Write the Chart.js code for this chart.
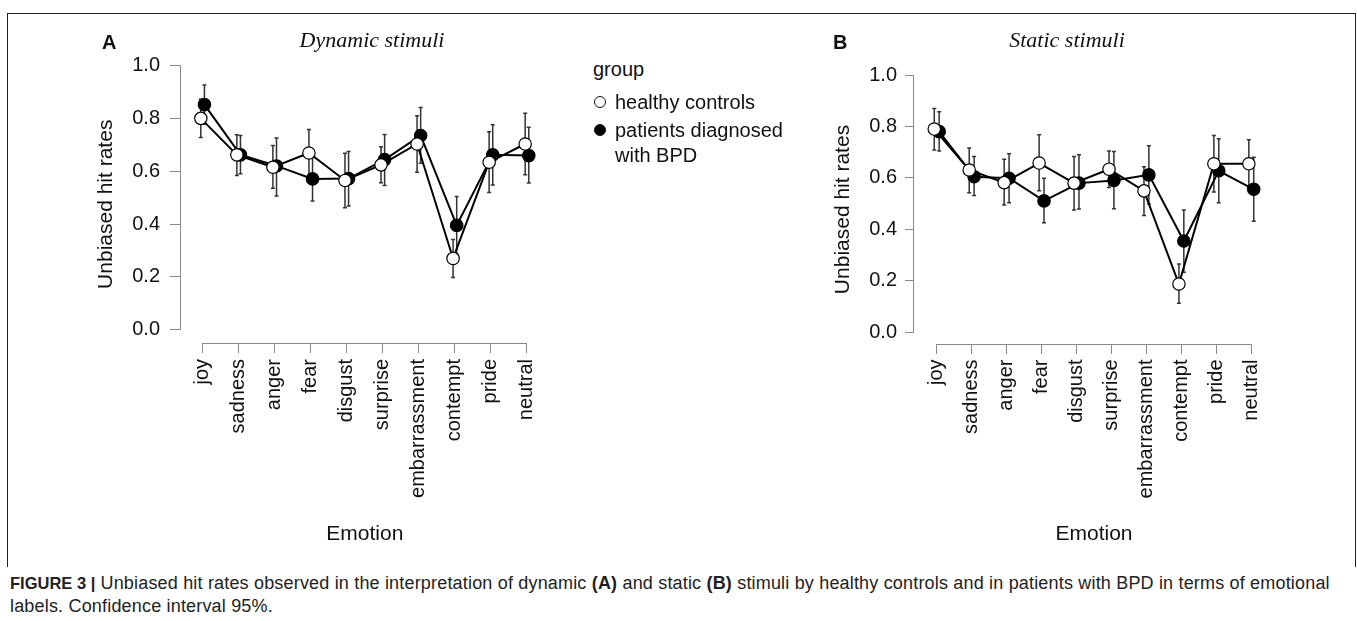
<!DOCTYPE html>
<html><head><meta charset="utf-8">
<script src="https://cdn.jsdelivr.net/npm/chart.js@4.4.1/dist/chart.umd.min.js"></script>
<style>
html,body{margin:0;padding:0;background:#fff;}
body{width:1357px;height:621px;position:relative;overflow:hidden;font-family:"Liberation Sans",Arial,sans-serif;color:#111;}
.abs{position:absolute;white-space:nowrap;}
#frame{position:absolute;left:7px;top:13px;width:1347px;height:553px;border:1px solid #222;border-bottom:none;}
canvas{position:absolute;top:0;}
.panel{font-weight:bold;font-size:20px;line-height:24px;}
.title{font-family:"Liberation Serif","Times New Roman",serif;font-style:italic;font-size:22px;line-height:26px;transform:translateX(-50%);}
.leg{font-size:20px;line-height:24px;}
.dot{position:absolute;width:10px;height:10px;border-radius:50%;border:1px solid #111;}
#cap{position:absolute;left:10px;top:572px;font-size:18px;line-height:23px;color:#222;white-space:nowrap;letter-spacing:0.18px;}
#cap .fig{letter-spacing:0;font-size:16.5px;}
</style></head><body>
<div id="frame"></div>
<canvas id="chartA" width="560" height="556" style="left:0px"></canvas>
<canvas id="chartB" width="560" height="556" style="left:740px"></canvas>
<div class="abs panel" style="left:102px;top:30px">A</div>
<div class="abs panel" style="left:833px;top:30px">B</div>
<div class="abs title" style="left:372px;top:27px">Dynamic stimuli</div>
<div class="abs title" style="left:1067px;top:27px">Static stimuli</div>
<div id="legend"></div>
<div id="cap"><b class="fig">FIGURE 3 |</b> Unbiased hit rates observed in the interpretation of dynamic <b>(A)</b> and static <b>(B)</b> stimuli by healthy controls and in patients with BPD in terms of emotional<br>labels. Confidence interval 95%.</div>
<script>
// ---- data ----
const categories = ['joy','sadness','anger','fear','disgust','surprise','embarrassment','contempt','pride','neutral'];
const yTickValues = [0, 0.2, 0.4, 0.6, 0.8, 1.0];
const seriesNames = ['healthy controls', 'patients diagnosed with BPD'];

// Dynamic stimuli (A)
const dynHealthy     = [0.800, 0.662, 0.615, 0.669, 0.565, 0.624, 0.703, 0.270, 0.634, 0.703];
const dynHealthyLow  = [0.728, 0.584, 0.536, 0.580, 0.462, 0.556, 0.596, 0.198, 0.519, 0.587];
const dynHealthyHigh = [0.872, 0.738, 0.697, 0.758, 0.668, 0.693, 0.810, 0.342, 0.749, 0.819];
const dynBPD         = [0.852, 0.662, 0.620, 0.571, 0.572, 0.644, 0.735, 0.395, 0.662, 0.659];
const dynBPDLow      = [0.778, 0.590, 0.506, 0.487, 0.468, 0.546, 0.630, 0.286, 0.548, 0.555];
const dynBPDHigh     = [0.926, 0.735, 0.726, 0.655, 0.675, 0.739, 0.841, 0.504, 0.776, 0.766];

// Static stimuli (B)
const staHealthy     = [0.790, 0.631, 0.582, 0.658, 0.580, 0.634, 0.550, 0.188, 0.655, 0.655];
const staHealthyLow  = [0.709, 0.543, 0.495, 0.550, 0.476, 0.563, 0.454, 0.113, 0.545, 0.562];
const staHealthyHigh = [0.870, 0.716, 0.673, 0.768, 0.683, 0.705, 0.644, 0.266, 0.765, 0.748];
const staBPD         = [0.780, 0.605, 0.599, 0.511, 0.580, 0.590, 0.612, 0.355, 0.628, 0.556];
const staBPDLow      = [0.705, 0.532, 0.504, 0.426, 0.479, 0.480, 0.499, 0.234, 0.504, 0.432];
const staBPDHigh     = [0.857, 0.683, 0.694, 0.599, 0.690, 0.703, 0.725, 0.476, 0.752, 0.680];

// ---- legend (HTML) ----
(function(){
  const lg = document.getElementById('legend');
  lg.innerHTML =
    '<div class="abs leg" style="left:593px;top:57px">group</div>' +
    '<div class="dot" style="left:594px;top:96px;background:#fff"></div>' +
    '<div class="abs leg" style="left:615px;top:90px">' + seriesNames[0] + '</div>' +
    '<div class="dot" style="left:594px;top:124px;background:#000"></div>' +
    '<div class="abs leg" style="left:615px;top:118px;white-space:normal;width:190px;line-height:25px">' + seriesNames[1] + '</div>';
})();

Chart.defaults.font.family = '"Liberation Sans", Arial, sans-serif';
Chart.defaults.color = '#111';

const errorBarPlugin = {
  id: 'errbars',
  beforeDatasetsDraw(chart) {
    const ctx = chart.ctx, xs = chart.scales.x, ys = chart.scales.y;
    ctx.save();
    ctx.strokeStyle = '#333';
    ctx.lineWidth = 1.5;
    chart.data.datasets.forEach(ds => {
      ds.data.forEach((p, i) => {
        const x = xs.getPixelForValue(p.x);
        const y1 = ys.getPixelForValue(ds.errLow[i]);
        const y2 = ys.getPixelForValue(ds.errHigh[i]);
        ctx.beginPath();
        ctx.moveTo(x, y1); ctx.lineTo(x, y2);
        ctx.moveTo(x - 2, y1); ctx.lineTo(x + 2, y1);
        ctx.moveTo(x - 2, y2); ctx.lineTo(x + 2, y2);
        ctx.stroke();
      });
    });
    ctx.restore();
  }
};

const axisLinePlugin = {
  id: 'axislines',
  beforeDatasetsDraw(chart) {
    const ctx = chart.ctx, xs = chart.scales.x, ys = chart.scales.y, a = chart.chartArea;
    ctx.save();
    ctx.strokeStyle = '#8a8a8a';
    ctx.lineWidth = 1;
    const lx = Math.round(a.left) - 0.5;
    ctx.beginPath();
    ctx.moveTo(lx, ys.getPixelForValue(yTickValues[0]));
    ctx.lineTo(lx, ys.getPixelForValue(yTickValues[yTickValues.length - 1]));
    const by = Math.round(a.bottom) + 0.5;
    ctx.moveTo(xs.getPixelForValue(0), by);
    ctx.lineTo(xs.getPixelForValue(categories.length - 1), by);
    ctx.stroke();
    ctx.restore();
  }
};

function makeChart(id, healthy, hLo, hHi, bpd, bLo, bHi, cfg) {
  const mk = (vals, off) => vals.map((v, i) => ({x: i + off, y: v}));
  return new Chart(document.getElementById(id), {
    type: 'line',
    data: {
      datasets: [
        {label: seriesNames[0], data: mk(healthy, -cfg.dodge), errLow: hLo, errHigh: hHi,
         borderColor: '#000', borderWidth: 2, pointRadius: 6.2, pointBorderWidth: 1.2,
         pointBackgroundColor: '#fff', pointBorderColor: '#000', tension: 0},
        {label: seriesNames[1], data: mk(bpd, cfg.dodge), errLow: bLo, errHigh: bHi,
         borderColor: '#000', borderWidth: 2, pointRadius: 6.2, pointBorderWidth: 1.2,
         pointBackgroundColor: '#000', pointBorderColor: '#000', tension: 0}
      ]
    },
    options: {
      responsive: false, animation: false, devicePixelRatio: 1,
      layout: {padding: {left: 0, top: cfg.top, right: cfg.right, bottom: 0}},
      plugins: {legend: {display: false}, tooltip: {enabled: false}},
      scales: {
        x: {
          type: 'linear', min: cfg.xmin, max: cfg.xmax,
          afterBuildTicks: s => { s.ticks = categories.map((c, i) => ({value: i})); },
          afterFit: s => { s.height = cfg.xh; },
          ticks: {autoSkip: false, minRotation: 90, maxRotation: 90, padding: cfg.xpad,
                  font: {size: 20}, color: '#111',
                  callback: v => categories[v]},
          grid: {display: true, drawOnChartArea: false, drawTicks: true, tickLength: 10, color: '#8a8a8a'},
          border: {display: false},
          title: {display: true, text: 'Emotion', font: {size: 21}, color: '#111', padding: {top: 0, bottom: 9.4}}
        },
        y: {
          min: cfg.ymin, max: 1.0,
          afterBuildTicks: s => { s.ticks = yTickValues.map(v => ({value: v})); },
          afterFit: s => { s.width = cfg.yw; },
          ticks: {padding: cfg.ypad, font: {size: 20}, color: '#111', callback: v => Number(v).toFixed(1)},
          grid: {display: true, drawOnChartArea: false, drawTicks: true, tickLength: cfg.ytl, color: '#8a8a8a'},
          border: {display: false},
          title: {display: true, text: 'Unbiased hit rates', font: {size: 21}, color: '#111', padding: {top: cfg.ytitle, bottom: 0}}
        }
      }
    },
    plugins: [axisLinePlugin, errorBarPlugin]
  });
}

makeChart('chartA', dynHealthy, dynHealthyLow, dynHealthyHigh, dynBPD, dynBPDLow, dynBPDHigh,
  {dodge: 0.05, top: 65.5, right: 11.4, xmin: -0.6, xmax: 9.6, ymin: -0.05, xh: 213, yw: 181, xpad: 6, ypad: 10, ytl: 11, ytitle: 94});
makeChart('chartB', staHealthy, staHealthyLow, staHealthyHigh, staBPD, staBPDLow, staBPDHigh,
  {dodge: 0.07, top: 75, right: 26, xmin: -0.65, xmax: 9.65, ymin: -0.045, xh: 212, yw: 174, xpad: 5.5, ypad: 8, ytl: 9, ytitle: 90.4});
</script>
</body></html>
